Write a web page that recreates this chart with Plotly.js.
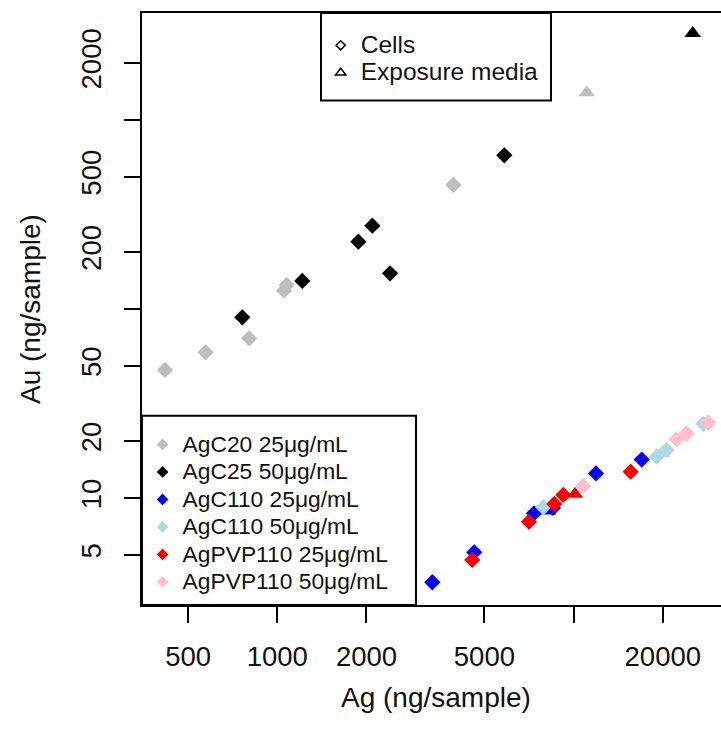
<!DOCTYPE html>
<html><head><meta charset="utf-8">
<script src="https://cdn.plot.ly/plotly-3.0.1.min.js"></script>
<style>html,body{margin:0;padding:0;overflow:hidden;background:#fff}</style>
</head><body><div id="chart" style="width:730px;height:742px"></div>
<script>
// ---- data (Ag, Au in ng/sample) ----
const seriesNames  = ['AgC20 25μg/mL','AgC25 50μg/mL','AgC110 25μg/mL','AgC110 50μg/mL','AgPVP110 25μg/mL','AgPVP110 50μg/mL'];
const seriesColors = ['#BEBEBE','#000000','#0000FF','#ADD8E6','#FF0000','#FFC0CB'];

const agc20CellsAg  = [418, 573, 804, 1053, 1076, 3927];
const agc20CellsAu  = [47.6, 59.0, 70.0, 125, 134, 453];
const agc20MediaAg  = [11070];
const agc20MediaAu  = [1393];

const agc25CellsAg  = [762, 1214, 1877, 2093, 2402, 5836];
const agc25CellsAu  = [90.4, 140.7, 227, 276, 154.5, 650];
const agc25MediaAg  = [25230];
const agc25MediaAu  = [2871];

const agc110_25CellsAg = [3336, 4622, 7350, 8521, 11900, 16980];
const agc110_25CellsAu = [3.59, 5.17, 8.31, 8.87, 13.5, 16.0];
const agc110_25MediaAg = [8197];
const agc110_25MediaAu = [8.55];

const agc110_50CellsAg = [7902, 19077, 20620, 27400];
const agc110_50CellsAu = [8.94, 16.6, 17.97, 24.7];
const agc110_50MediaAg = [19880];
const agc110_50MediaAu = [17.3];

const pvp25CellsAg = [4550, 7070, 8607, 9231, 15580];
const pvp25CellsAu = [4.71, 7.50, 9.31, 10.4, 13.8];
const pvp25MediaAg = [10110];
const pvp25MediaAu = [10.5];

const pvp50CellsAg = [10780, 22280, 24080, 28490];
const pvp50CellsAu = [11.6, 20.5, 22.0, 25.1];
const pvp50MediaAg = [23040];
const pvp50MediaAu = [21.0];

const xTickVals = [500, 1000, 2000, 5000, 10000, 20000];
const xTickText = ['500', '1000', '2000', '5000', '', '20000'];
const yTickVals = [5, 10, 20, 50, 100, 200, 500, 1000, 2000];
const yTickText = ['5', '10', '20', '50', '', '200', '500', '', '2000'];
const typeNames = ['Cells', 'Exposure media'];

// ---- build traces ----
const cellsAg = [agc20CellsAg, agc25CellsAg, agc110_25CellsAg, agc110_50CellsAg, pvp25CellsAg, pvp50CellsAg];
const cellsAu = [agc20CellsAu, agc25CellsAu, agc110_25CellsAu, agc110_50CellsAu, pvp25CellsAu, pvp50CellsAu];
const mediaAg = [agc20MediaAg, agc25MediaAg, agc110_25MediaAg, agc110_50MediaAg, pvp25MediaAg, pvp50MediaAg];
const mediaAu = [agc20MediaAu, agc25MediaAu, agc110_25MediaAu, agc110_50MediaAu, pvp25MediaAu, pvp50MediaAu];

const FONT = 'Liberation Sans, Arial, sans-serif';
const traces = [];
for (let i = 0; i < seriesNames.length; i++) {
  traces.push({x: cellsAg[i], y: cellsAu[i], type: 'scatter', mode: 'markers', showlegend: false,
    marker: {symbol: 'diamond', size: 12.5, color: seriesColors[i], line: {width: 0}}});
  traces.push({x: mediaAg[i], y: mediaAu[i], type: 'scatter', mode: 'markers', showlegend: false,
    marker: {symbol: 'triangle-up', size: 14.5, color: seriesColors[i], line: {width: 0}}});
}
// legend entries
for (let i = 0; i < seriesNames.length; i++) {
  traces.push({x: [null], y: [null], type: 'scatter', mode: 'markers', legend: 'legend',
    name: '<span style="font-size:22.8px">' + seriesNames[i] + '</span>',
    marker: {symbol: 'diamond', size: 9, color: seriesColors[i], line: {width: 0}}});
}
traces.push({x: [null], y: [null], type: 'scatter', mode: 'markers', legend: 'legend2',
  name: '<span style="font-size:24.5px">' + typeNames[0] + '</span>',
  marker: {symbol: 'diamond-open', size: 7, color: '#000', line: {width: 1.5, color: '#000'}}});
traces.push({x: [null], y: [null], type: 'scatter', mode: 'markers', legend: 'legend2',
  name: '<span style="font-size:24.5px">' + typeNames[1] + '</span>',
  marker: {symbol: 'triangle-up-open', size: 9, color: '#000', line: {width: 1.5, color: '#000'}}});

const axisCommon = {
  type: 'log', tickmode: 'array', ticks: 'outside', ticklen: 16, tickwidth: 2, tickcolor: '#000',
  showline: true, linewidth: 2, linecolor: '#000', mirror: true, showgrid: false, zeroline: false,
  tickfont: {family: FONT, size: 27.5, color: '#111'}, automargin: false
};

const layout = {
  width: 730, height: 742,
  margin: {l: 142, r: 0, t: 13, b: 137},
  paper_bgcolor: '#fff', plot_bgcolor: '#fff',
  showlegend: true,
  xaxis: Object.assign({}, axisCommon, {range: [2.5434, 4.5278], tickvals: xTickVals, ticktext: xTickText, ticklabelstandoff: 10}),
  yaxis: Object.assign({}, axisCommon, {range: [0.4348, 3.5654], tickvals: yTickVals, ticktext: yTickText, tickangle: -90, ticklabelstandoff: 12}),
  legend: {x: 0.001, y: 0.3030, xanchor: 'left', yanchor: 'top', bgcolor: 'rgba(0,0,0,0)', borderwidth: 0,
    font: {family: FONT, size: 18.85, color: '#111'}, traceorder: 'normal', itemclick: false, itemdoubleclick: false},
  legend2: {x: 0.3039, y: 0.9772, xanchor: 'left', yanchor: 'top', bgcolor: 'rgba(0,0,0,0)', borderwidth: 0,
    font: {family: FONT, size: 18.9, color: '#111'}, traceorder: 'normal', itemclick: false, itemdoubleclick: false},
  shapes: [
    {type: 'rect', xref: 'paper', yref: 'paper', x0: 0, x1: 0.466, y0: 0, y1: 0.3198, line: {color: '#000', width: 2}, layer: 'above'},
    {type: 'rect', xref: 'paper', yref: 'paper', x0: 0.3044, x1: 0.6956, y0: 0.8522, y1: 1, line: {color: '#000', width: 2}, layer: 'above'}
  ],
  annotations: [
    {text: 'Ag (ng/sample)', xref: 'paper', yref: 'paper', x: 0.5, y: -0.157, xanchor: 'center', yanchor: 'middle',
     showarrow: false, font: {family: FONT, size: 28, color: '#111'}},
    {text: 'Au (ng/sample)', xref: 'paper', yref: 'paper', x: -0.1905, y: 0.5, xanchor: 'center', yanchor: 'middle',
     textangle: -90, showarrow: false, font: {family: FONT, size: 28, color: '#111'}}
  ]
};

Plotly.newPlot('chart', traces, layout, {staticPlot: true, displayModeBar: false});
</script></body></html>
